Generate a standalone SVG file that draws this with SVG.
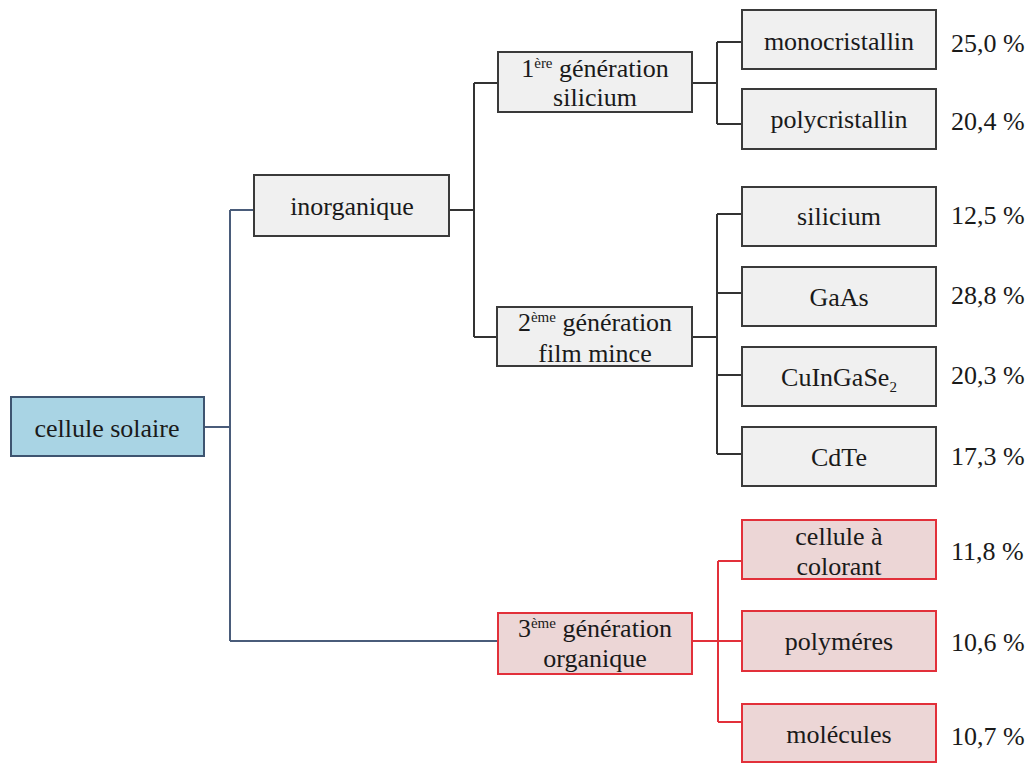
<svg xmlns="http://www.w3.org/2000/svg" width="1031" height="763" viewBox="0 0 1031 763">
<style>
text{font-family:"Liberation Serif","Times New Roman",serif;font-size:26px;fill:#1a1a1a}
.lbl{text-anchor:middle}
.pct{text-anchor:start}
.sup{font-size:15px}
.g{fill:#f0f0f0;stroke:#3a3a3a;stroke-width:2}
.b{fill:#a9d4e4;stroke:#3e5470;stroke-width:2}
.r{fill:#ecd6d6;stroke:#e2303a;stroke-width:2}
.cg{fill:none;stroke:#333;stroke-width:2}
.cb{fill:none;stroke:#4a5c7a;stroke-width:2}
.cr{fill:none;stroke:#e2303a;stroke-width:2}
</style>
<rect width="1031" height="763" fill="#fff"/>
<g id="connectors">
<path class="cb" d="M204 427H230M230 210V641M230 210H254M230 641H498"/>
<path class="cg" d="M449 210H474M474 83V337M474 83H498M474 337H497"/>
<path class="cg" d="M692 83H717M717 42V124M717 42H742M717 124H742"/>
<path class="cg" d="M692 337H717M717 214V454M717 214H742M717 293H742M717 375H742M717 454H742"/>
<path class="cr" d="M692 641H742M718 561V722M718 561H742M718 722H742"/>
</g>
<g id="n-cellule"><rect class="b" x="11" y="397" width="193" height="59"/><text class="lbl" x="107" y="437">cellule solaire</text></g>
<g id="n-inorganique"><rect class="g" x="254" y="175" width="195" height="61"/><text class="lbl" x="352" y="215">inorganique</text></g>
<g id="n-gen1"><rect class="g" x="498" y="52" width="194" height="60"/><text class="lbl" x="595" y="77">1<tspan class="sup" baseline-shift="9">ère</tspan> génération</text><text class="lbl" x="595" y="106">silicium</text></g>
<g id="n-gen2"><rect class="g" x="497" y="307" width="195" height="59"/><text class="lbl" x="595" y="331">2<tspan class="sup" baseline-shift="9">ème</tspan> génération</text><text class="lbl" x="595" y="362">film mince</text></g>
<g id="n-gen3"><rect class="r" x="498" y="613" width="194" height="61"/><text class="lbl" x="595" y="637">3<tspan class="sup" baseline-shift="9">ème</tspan> génération</text><text class="lbl" x="595" y="667">organique</text></g>
<g id="n-mono"><rect class="g" x="742" y="10" width="194" height="59"/><text class="lbl" x="839" y="50">monocristallin</text><text class="pct" x="951" y="52">25,0 %</text></g>
<g id="n-poly"><rect class="g" x="742" y="89" width="194" height="60"/><text class="lbl" x="839" y="128">polycristallin</text><text class="pct" x="951" y="130">20,4 %</text></g>
<g id="n-silicium"><rect class="g" x="742" y="187" width="194" height="59"/><text class="lbl" x="839" y="225">silicium</text><text class="pct" x="951" y="224">12,5 %</text></g>
<g id="n-gaas"><rect class="g" x="742" y="267" width="194" height="59"/><text class="lbl" x="839" y="306">GaAs</text><text class="pct" x="951" y="304">28,8 %</text></g>
<g id="n-cigs"><rect class="g" x="742" y="347" width="194" height="59"/><text class="lbl" x="839" y="386">CuInGaSe<tspan class="sup" baseline-shift="-6">2</tspan></text><text class="pct" x="951" y="384">20,3 %</text></g>
<g id="n-cdte"><rect class="g" x="742" y="427" width="194" height="59"/><text class="lbl" x="839" y="466">CdTe</text><text class="pct" x="951" y="465">17,3 %</text></g>
<g id="n-colorant"><rect class="r" x="742" y="520" width="194" height="59"/><text class="lbl" x="839" y="545">cellule à</text><text class="lbl" x="839" y="575">colorant</text><text class="pct" x="951" y="560">11,8 %</text></g>
<g id="n-polymeres"><rect class="r" x="742" y="611" width="194" height="60"/><text class="lbl" x="839" y="650">polyméres</text><text class="pct" x="951" y="651">10,6 %</text></g>
<g id="n-molecules"><rect class="r" x="742" y="704" width="194" height="58"/><text class="lbl" x="839" y="743">molécules</text><text class="pct" x="951" y="745">10,7 %</text></g>
</svg>
